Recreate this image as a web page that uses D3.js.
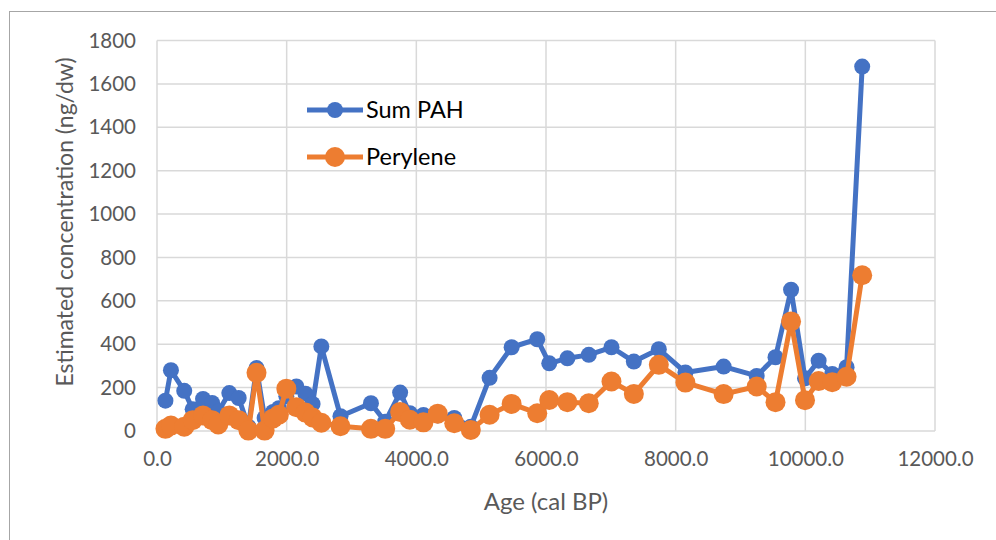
<!DOCTYPE html>
<html>
<head>
<meta charset="utf-8">
<script src="https://cdn.jsdelivr.net/npm/d3@7"></script>
<style>
  html, body { margin: 0; padding: 0; background: #fff; }
  svg { display: block; font-family: Lato, "Open Sans", sans-serif; }
</style>
</head>
<body>
<svg id="chart" width="996" height="540"></svg>
<script>
// Ages (cal BP) shared by both series
const ages = [130, 215, 420, 550, 710, 850, 945, 1115, 1260, 1410, 1535, 1660, 1790, 1880, 1995,
  2150, 2290, 2400, 2535, 2830, 3300, 3520, 3750, 3900, 4110, 4330, 4585, 4840, 5130, 5470,
  5865, 6050, 6330, 6660, 7010, 7355, 7740, 8150, 8740, 9250, 9540, 9780, 9995, 10205, 10415,
  10636, 10877];

const sumPAH = [140, 280, 185, 100, 148, 129, 90, 175, 152, 20, 290, 60, 88, 105, 160,
  205, 172, 125, 390, 68, 128, 43, 177, 82, 74, 72, 60, 20, 245, 386,
  423, 312, 335, 351, 386, 320, 377, 270, 297, 254, 340, 651, 243, 324, 263,
  294, 1680];

const perylene = [10, 25, 20, 50, 72, 50, 30, 72, 50, 2, 268, 2, 58, 75, 195,
  110, 85, 62, 38, 22, 10, 10, 88, 52, 40, 80, 36, 5, 75, 125,
  82, 143, 133, 128, 228, 171, 305, 223, 170, 205, 133, 505, 142, 230, 225,
  250, 718];

const xTicks = [0, 2000, 4000, 6000, 8000, 10000, 12000];
const yTicks = [0, 200, 400, 600, 800, 1000, 1200, 1400, 1600, 1800];

const seriesNames = ["Sum PAH", "Perylene"];

// Layout
const margin = { top: 40.5, left: 157, right: 61, bottom: 109 },
  width = 996 - margin.left - margin.right,
  height = 540 - margin.top - margin.bottom,
  gridColor = "#d9d9d9",
  textColor = "#595959",
  blue = "#4472c4",
  orange = "#ed7d31";

const svg = d3.select("#chart");

// Outer chart frame
svg.append("rect")
  .attr("x", 9.5).attr("y", 11.5)
  .attr("width", 1000).attr("height", 600)
  .attr("fill", "none")
  .attr("stroke", "#a6a6a6")
  .attr("stroke-width", 1);

const g = svg.append("g")
  .attr("transform", "translate(" + margin.left + "," + margin.top + ")");

const x = d3.scaleLinear().domain([0, 12000]).range([0, width]);
const y = d3.scaleLinear().domain([0, 1800]).range([height, 0]);

// Gridlines
g.append("g")
  .selectAll("line")
  .data(yTicks)
  .join("line")
  .attr("x1", 0).attr("x2", width)
  .attr("y1", d => y(d)).attr("y2", d => y(d))
  .attr("stroke", gridColor)
  .attr("stroke-width", 1.5);

g.append("g")
  .selectAll("line")
  .data(xTicks)
  .join("line")
  .attr("x1", d => x(d)).attr("x2", d => x(d))
  .attr("y1", 0).attr("y2", height)
  .attr("stroke", gridColor)
  .attr("stroke-width", 1.5);

// Axes (labels only, lines come from the grid)
const yAxis = g.append("g")
  .call(d3.axisLeft(y).tickValues(yTicks).tickFormat(d3.format("d")).tickSize(0).tickPadding(21));
yAxis.select(".domain").remove();
yAxis.selectAll("text")
  .attr("fill", textColor)
  .style("font-size", "20.5px")
  .style("font-family", "Lato, sans-serif");

const xAxis = g.append("g")
  .attr("transform", "translate(0," + height + ")")
  .call(d3.axisBottom(x).tickValues(xTicks).tickFormat(d3.format(".1f")).tickSize(0).tickPadding(20));
xAxis.select(".domain").remove();
xAxis.selectAll("text")
  .attr("fill", textColor)
  .style("font-size", "20.5px")
  .style("font-family", "Lato, sans-serif");

// Axis titles
svg.append("text")
  .attr("transform", "translate(73,222) rotate(-90)")
  .attr("text-anchor", "middle")
  .attr("fill", textColor)
  .style("font-size", "23px")
  .text("Estimated concentration (ng/dw)");

svg.append("text")
  .attr("x", margin.left + width / 2)
  .attr("y", 510)
  .attr("text-anchor", "middle")
  .attr("fill", textColor)
  .style("font-size", "24px")
  .text("Age (cal BP)");

// Series
const series = [
  { name: seriesNames[0], values: sumPAH, color: blue, r: 8 },
  { name: seriesNames[1], values: perylene, color: orange, r: 10 }
];

const line = d3.line()
  .x(d => x(d[0]))
  .y(d => y(d[1]));

series.forEach(s => {
  const pts = ages.map((a, i) => [a, s.values[i]]);
  g.append("path")
    .datum(pts)
    .attr("fill", "none")
    .attr("stroke", s.color)
    .attr("stroke-width", 5)
    .attr("stroke-linejoin", "round")
    .attr("d", line);
  g.append("g")
    .selectAll("circle")
    .data(pts)
    .join("circle")
    .attr("cx", d => x(d[0]))
    .attr("cy", d => y(d[1]))
    .attr("r", s.r)
    .attr("fill", s.color);
});

// Legend
const legend = svg.append("g");
series.forEach((s, i) => {
  const ly = 110 + i * 47;
  legend.append("line")
    .attr("x1", 307).attr("x2", 363)
    .attr("y1", ly).attr("y2", ly)
    .attr("stroke", s.color)
    .attr("stroke-width", 5);
  legend.append("circle")
    .attr("cx", 335).attr("cy", ly)
    .attr("r", s.r)
    .attr("fill", s.color);
  legend.append("text")
    .attr("x", 366).attr("y", ly)
    .attr("dy", "0.35em")
    .attr("fill", "#000")
    .style("font-size", "23.5px")
    .text(s.name);
});
</script>
</body>
</html>
